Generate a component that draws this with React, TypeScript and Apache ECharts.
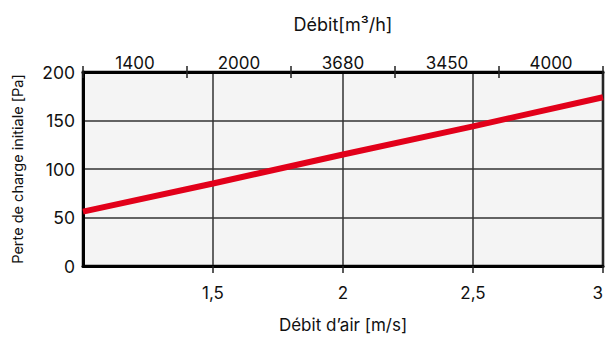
import React, { useEffect, useRef } from "react";
import * as echarts from "echarts";

const airSpeed = [1, 1.5, 2, 2.5, 3];
const pressureDrop = [56, 85, 115, 144, 174];
const flowLabels = ["1400", "2000", "3680", "3450", "4000"];

const FONT = "Inter, 'Open Sans', sans-serif";

export default function App() {
  const ref = useRef<HTMLDivElement>(null);
  useEffect(() => {
    if (!ref.current) return;
    const chart = echarts.init(ref.current, undefined, { renderer: "svg" });
    const textBase = { color: "#111", fontFamily: FONT };
    chart.setOption({
      animation: false,
      backgroundColor: "#ffffff",
      grid: {
        left: 83,
        right: 1,
        top: 72,
        bottom: 67,
        show: true,
        backgroundColor: "#f4f4f4",
        borderColor: "#000",
        borderWidth: 2.5,
      },
      xAxis: [
        {
          type: "value",
          position: "bottom",
          min: 1,
          max: 3,
          interval: 0.5,
          name: "Débit d’air [m/s]",
          nameLocation: "middle",
          nameGap: 50,
          nameTextStyle: { ...textBase, fontSize: 17 },
          axisLine: { show: true, lineStyle: { color: "#000", width: 3 } },
          axisTick: { show: true, length: 7, lineStyle: { color: "#222", width: 1.5 } },
          axisLabel: {
            ...textBase,
            fontSize: 17,
            margin: 18,
            showMinLabel: false,
            alignMaxLabel: "right",
            formatter: (v: number) => String(v).replace(".", ","),
          },
          splitLine: { show: true, lineStyle: { color: "#333", width: 1.5 } },
        },
        {
          type: "category",
          position: "top",
          data: flowLabels,
          boundaryGap: true,
          name: "Débit[m³/h]",
          nameLocation: "middle",
          nameGap: 39,
          nameTextStyle: { ...textBase, fontSize: 18 },
          axisLine: { show: true, lineStyle: { color: "#000", width: 3 } },
          axisTick: { show: true, length: 6, lineStyle: { color: "#222", width: 1.5 } },
          axisLabel: { ...textBase, fontSize: 17, margin: 1 },
          splitLine: { show: false },
        },
        {
          type: "category",
          position: "top",
          data: flowLabels,
          boundaryGap: true,
          axisLine: { show: false },
          axisTick: { show: true, inside: true, length: 6, lineStyle: { color: "#222", width: 1.5 } },
          axisLabel: { show: false },
          splitLine: { show: false },
        },
      ],
      yAxis: {
        type: "value",
        min: 0,
        max: 200,
        interval: 50,
        name: "Perte de charge initiale [Pa]",
        nameLocation: "middle",
        nameGap: 58,
        nameTextStyle: { ...textBase, fontSize: 14.5 },
        axisLine: { show: true, lineStyle: { color: "#000", width: 3 } },
        axisTick: { show: false },
        axisLabel: { ...textBase, fontSize: 17.5, margin: 8 },
        splitLine: { show: true, lineStyle: { color: "#333", width: 1.5 } },
      },
      series: [
        {
          type: "line",
          xAxisIndex: 0,
          data: airSpeed.map((x, i) => [x, pressureDrop[i]]),
          showSymbol: false,
          lineStyle: { color: "#e2001a", width: 6 },
          itemStyle: { color: "#e2001a" },
        },
      ],
    });
    return () => chart.dispose();
  }, []);
  return (
    <div
      ref={ref}
      style={{ position: "fixed", left: 0, top: 0, width: 606, height: 338 }}
    />
  );
}
